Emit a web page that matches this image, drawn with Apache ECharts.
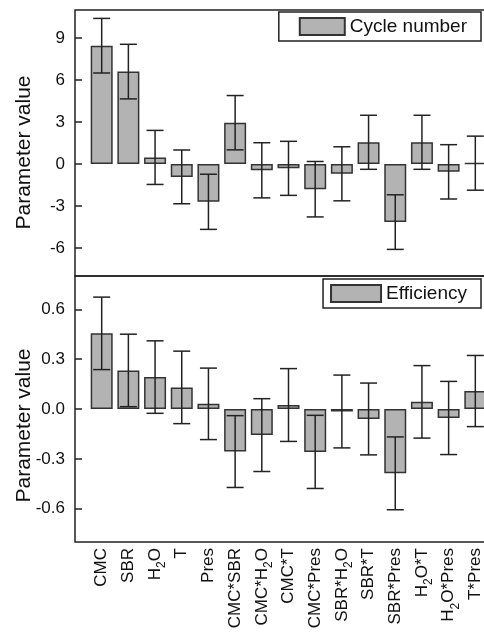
<!DOCTYPE html>
<html>
<head>
<meta charset="utf-8">
<script src="https://cdn.jsdelivr.net/npm/echarts@6.0.0/dist/echarts.min.js"></script>
<style>
  html, body { margin: 0; padding: 0; background: #fff; }
  #main { width: 484px; height: 639px; }
</style>
</head>
<body>
<div id="main"></div>
<script>
// factors (x position = index + 1)
var categories = ['CMC', 'SBR', 'H2O', 'T', 'Pres', 'CMC*SBR', 'CMC*H2O', 'CMC*T', 'CMC*Pres',
  'SBR*H2O', 'SBR*T', 'SBR*Pres', 'H2O*T', 'H2O*Pres', 'T*Pres'];

// top panel: cycle number
var cycleValues = [8.45, 6.6, 0.47, -0.92, -2.7, 2.95, -0.45, -0.31, -1.8, -0.7, 1.55, -4.15, 1.55, -0.56, 0.06];
var cycleErrors = [1.95, 1.95, 1.93, 1.92, 1.97, 1.94, 1.97, 1.93, 1.98, 1.93, 1.93, 1.95, 1.93, 1.94, 1.93];

// bottom panel: efficiency
var effValues = [0.455, 0.232, 0.192, 0.13, 0.031, -0.256, -0.157, 0.024, -0.258, -0.015, -0.06, -0.387, 0.043, -0.054, 0.108];
var effErrors = [0.218, 0.218, 0.218, 0.218, 0.215, 0.216, 0.219, 0.219, 0.22, 0.219, 0.216, 0.219, 0.218, 0.22, 0.214];

// tick labels
var cycleTicks = [-6, -3, 0, 3, 6, 9];
var cycleMinor = [-7.5, -4.5, -1.5, 1.5, 4.5, 7.5, 10.5];
var effTicks = [-0.6, -0.3, 0, 0.3, 0.6];
var effMinor = [-0.75, -0.45, -0.15, 0.15, 0.45, 0.75];

var myChart = echarts.init(document.getElementById('main'));

function pairs(vals) {
  return vals.map(function (v, i) { return [i + 1, v]; });
}
function errPairs(vals, errs) {
  return vals.map(function (v, i) { return [i + 1, v - errs[i], v + errs[i]]; });
}
function richName(name) {
  return name.split('2').map(function (p) { return p ? '{n|' + p + '}' : ''; }).join('{s|2}');
}

function renderError(params, api) {
  var x = api.value(0);
  var lo = api.coord([x, api.value(1)]);
  var hi = api.coord([x, api.value(2)]);
  var half = 8.5;
  var st = { stroke: '#222', lineWidth: 1.5 };
  return {
    type: 'group',
    children: [
      { type: 'line', shape: { x1: lo[0], y1: lo[1], x2: hi[0], y2: hi[1] }, style: st },
      { type: 'line', shape: { x1: lo[0] - half, y1: lo[1], x2: lo[0] + half, y2: lo[1] }, style: st },
      { type: 'line', shape: { x1: hi[0] - half, y1: hi[1], x2: hi[0] + half, y2: hi[1] }, style: st }
    ]
  };
}

var txt = '#111';
var font = 'Liberation Sans, Arial, sans-serif';

function xAxisFor(idx, showLabels) {
  return {
    type: 'value', gridIndex: idx, min: 0, max: 16, interval: 1,
    axisLine: { show: false }, axisTick: { show: false }, splitLine: { show: false },
    axisLabel: {
      show: showLabels, rotate: 90, margin: 6,
      formatter: function (v) {
        var n = categories[v - 1];
        return n ? richName(n) : '';
      },
      rich: {
        n: { fontSize: 17, color: txt, fontFamily: font },
        s: { fontSize: 12, color: txt, fontFamily: font, padding: [14, 0, 0, 0] }
      }
    }
  };
}

function yAxisMajor(idx, min, max, ticks, fmt, namePad) {
  return {
    type: 'value', gridIndex: idx, min: min, max: max,
    name: 'Parameter value', nameLocation: 'middle', nameGap: 40, nameMoveOverlap: false,
    nameTextStyle: { fontSize: 21, color: txt, fontFamily: font, padding: [0, namePad, 0, 0] },
    axisLine: { show: false },
    splitLine: { show: false },
    axisTick: { show: true, inside: true, length: 7, customValues: ticks, lineStyle: { color: '#222', width: 1.5 } },
    axisLabel: { customValues: ticks, margin: 10, fontSize: 17, color: txt, fontFamily: font, formatter: fmt }
  };
}
function yAxisMinor(idx, min, max, ticks) {
  return {
    type: 'value', gridIndex: idx, min: min, max: max,
    axisLine: { show: false }, splitLine: { show: false },
    axisLabel: { show: false },
    axisTick: { show: true, inside: true, length: 4, customValues: ticks, lineStyle: { color: '#222', width: 1.2 } }
  };
}

var barStyle = { color: '#b3b3b3', borderColor: '#333', borderWidth: 1.5 };

var option = {
  backgroundColor: '#fff',
  animation: false,
  grid: [
    { left: 75, width: 427, top: 10, height: 266, outerBoundsMode: 'none', containLabel: false,
      show: true, borderColor: '#222', borderWidth: 1.5 },
    { left: 75, width: 427, top: 276, height: 266, outerBoundsMode: 'none', containLabel: false,
      show: true, borderColor: '#222', borderWidth: 1.5 }
  ],
  legend: [
    {
      data: ['Cycle number'], right: 3, top: 12, orient: 'horizontal', icon: 'rect',
      itemWidth: 45, itemHeight: 17, padding: [5, 14, 5, 20],
      borderColor: '#222', borderWidth: 1.5, backgroundColor: '#fff',
      textStyle: { fontSize: 19, color: txt, fontFamily: font }
    },
    {
      data: ['Efficiency'], right: 3, top: 279, orient: 'horizontal', icon: 'rect',
      itemWidth: 50, itemHeight: 17, padding: [5, 14, 5, 7],
      borderColor: '#222', borderWidth: 1.5, backgroundColor: '#fff',
      textStyle: { fontSize: 19, color: txt, fontFamily: font }
    }
  ],
  xAxis: [xAxisFor(0, false), xAxisFor(1, true)],
  yAxis: [
    yAxisMajor(0, -8, 11, cycleTicks, function (v) { return String(v); }, 19),
    yAxisMinor(0, -8, 11, cycleMinor),
    yAxisMajor(1, -0.8, 0.8, effTicks, function (v) { return v.toFixed(1); }, 33),
    yAxisMinor(1, -0.8, 0.8, effMinor)
  ],
  series: [
    {
      name: 'Cycle number', type: 'bar', xAxisIndex: 0, yAxisIndex: 0,
      barWidth: 22, itemStyle: barStyle, data: pairs(cycleValues)
    },
    {
      type: 'custom', xAxisIndex: 0, yAxisIndex: 0, renderItem: renderError,
      encode: { x: 0, y: [1, 2] }, data: errPairs(cycleValues, cycleErrors), z: 5
    },
    {
      name: 'Efficiency', type: 'bar', xAxisIndex: 1, yAxisIndex: 2,
      barWidth: 22, itemStyle: barStyle, data: pairs(effValues)
    },
    {
      type: 'custom', xAxisIndex: 1, yAxisIndex: 2, renderItem: renderError,
      encode: { x: 0, y: [1, 2] }, data: errPairs(effValues, effErrors), z: 5
    }
  ]
};

myChart.setOption(option);
</script>
</body>
</html>
